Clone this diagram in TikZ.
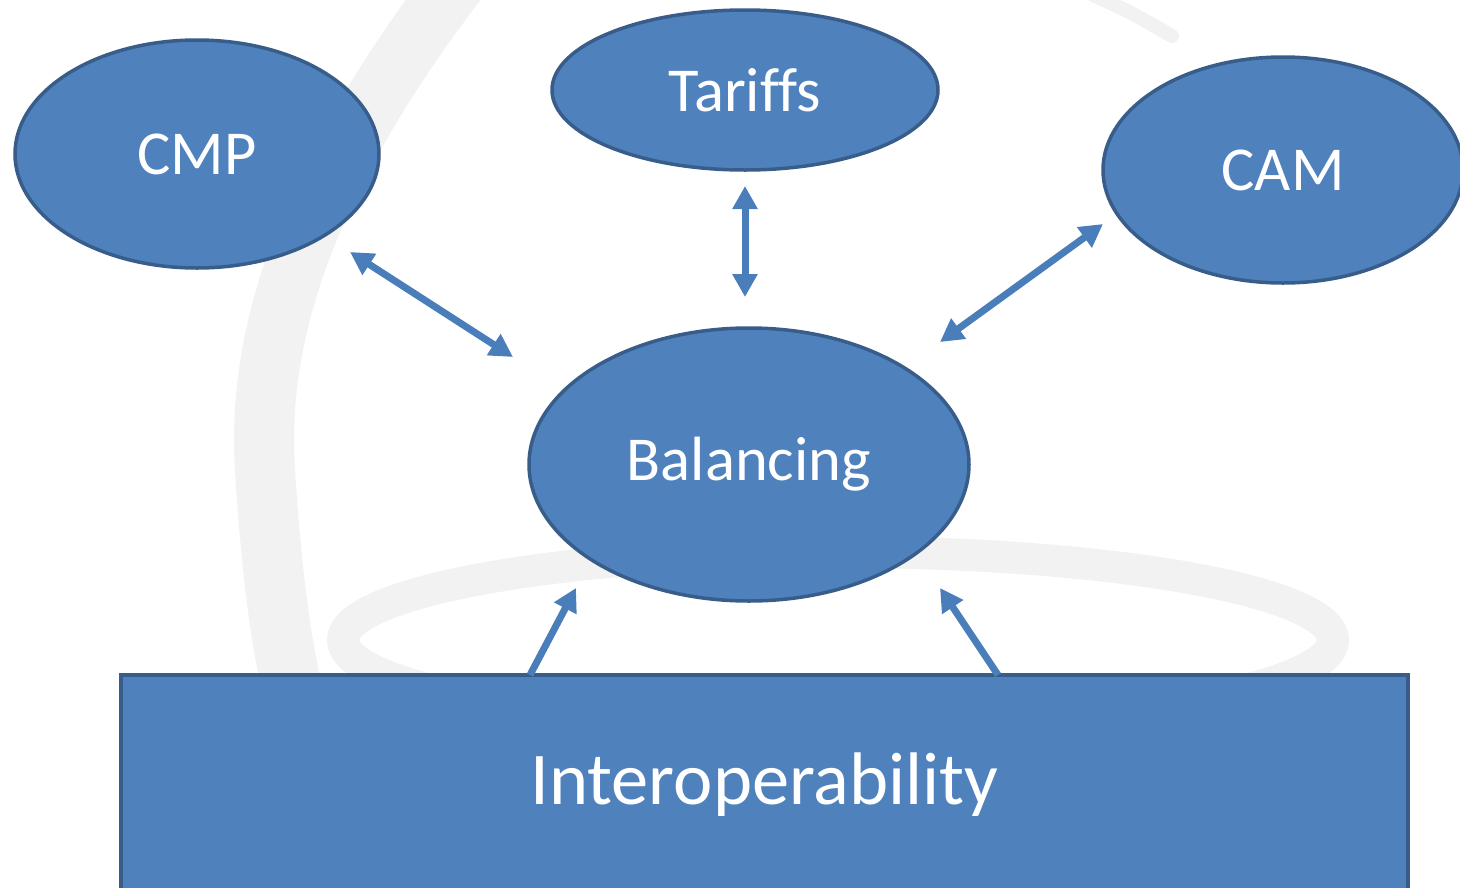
\documentclass[tikz,border=0pt]{standalone}
\usepackage{fontspec}
\setmainfont{Carlito}[Ligatures=NoCommon]
\usetikzlibrary{shapes.geometric, arrows.meta}

\definecolor{boxfill}{HTML}{4F81BD}
\definecolor{boxline}{HTML}{385D8A}
\definecolor{linkcol}{HTML}{4A7EBB}
\definecolor{markcol}{HTML}{F2F2F2}

\begin{document}
\begin{tikzpicture}
            \tikzset{x=1pt, y=-1pt}
            \tikzstyle{topic}=[ellipse, draw=boxline, fill=boxfill, line width=3.5pt, inner sep=0pt, text=white, font=\fontsize{62.5}{72}\selectfont]
            \tikzstyle{base}=[rectangle, draw=boxline, fill=boxfill, line width=3.5pt, inner sep=0pt, text=white, font=\fontsize{74.5}{86}\selectfont]
            \tikzstyle{link}=[linkcol, line width=7pt, -{Triangle[length=23pt, width=24pt]}]
            \tikzstyle{biglink}=[link, {Triangle[length=23pt, width=24pt]}-{Triangle[length=23pt, width=24pt]}]
            \tikzstyle{swirl}=[markcol, line cap=round]

            \useasboundingbox (0,0) rectangle (1460,887);
            \clip (0,0) rectangle (1460,887);

            % faint watermark behind the diagram
            \draw[swirl, line width=60pt] (458,-20) .. controls (320,160) and (255,320) .. (265,470)
                                                   .. controls (272,580) and (282,650) .. (295,700);
            \draw[swirl, line width=32pt] (838,640) ellipse [x radius=495pt, y radius=88pt];
            \draw[swirl, line width=14pt] (1093,-5) .. controls (1130,12) .. (1172,36);

            \draw (197,154)     node[topic, minimum width=364pt, minimum height=228pt]  (cmp)     {CMP};
            \draw (745,90)      node[topic, minimum width=386pt, minimum height=160pt]  (tariffs) {Tariffs};
            \draw (1283,170)    node[topic, minimum width=360pt, minimum height=226pt]  (cam)     {CAM};
            \draw (749,464.5)   node[topic, minimum width=440pt, minimum height=273pt]  (bal)     {Balancing};
            \draw (764.5,785)   node[base, minimum width=1287pt, minimum height=220pt]  (inter)   {Interoperability};

            \coordinate (cmp-out)  at (350,252);
            \coordinate (bal-cmp)  at (513,357);
            \coordinate (tar-out)  at (745,186);
            \coordinate (bal-tar)  at (745,297);
            \coordinate (cam-out)  at (1103,224);
            \coordinate (bal-cam)  at (940,342);
            \coordinate (int-l)    at (530,675);
            \coordinate (bal-l)    at (576,588);
            \coordinate (int-r)    at (998,675);
            \coordinate (bal-r)    at (940,588);

            \draw [biglink] (cmp-out) -- (bal-cmp);
            \draw [biglink] (tar-out) -- (bal-tar);
            \draw [biglink] (cam-out) -- (bal-cam);
            \draw [link]    (int-l) -- (bal-l);
            \draw [link]    (int-r) -- (bal-r);
        \end{tikzpicture}
\end{document}
